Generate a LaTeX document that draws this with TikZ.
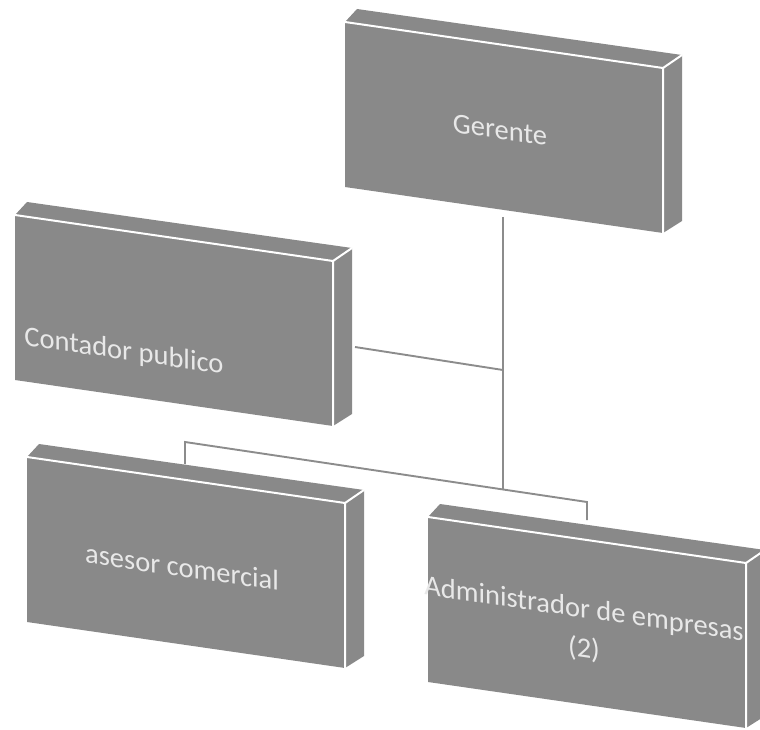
\documentclass[tikz,border=0pt]{standalone}
\usepackage{fontspec}
\setmainfont{Carlito}
\definecolor{boxgray}{RGB}{137,137,137}
\definecolor{linkgray}{RGB}{140,140,140}
\definecolor{textgray}{RGB}{232,232,232}
\begin{document}
\begin{tikzpicture}[x=1pt, y=-1pt,
    face/.style={fill=boxgray},
    rim/.style={white, line width=2pt, line cap=round},
    link/.style={draw=linkgray, line width=1.9pt},
    role/.style={text=textgray, inner sep=0pt, yslant=-0.145, font=\fontsize{28.5}{40}\selectfont}]
    \useasboundingbox (0,0) rectangle (760,730);

    % connector points
    \coordinate (ger-b) at (503,217);
    \coordinate (j1) at (503,370);
    \coordinate (j2) at (503,489);
    \coordinate (con-r) at (355,347);
    \coordinate (b1) at (185,442);
    \coordinate (b2) at (587,502);
    \coordinate (ase-t) at (185,464);
    \coordinate (adm-t) at (587,520);

    \draw [link] (ger-b) -- (j2);
    \draw [link] (con-r) -- (j1);
    \draw [link] (ase-t) -- (b1) -- (b2) -- (adm-t);

    % boxes: front, top and side faces
    \foreach \x/\y in {345/22, 15/215, 27/457, 428/517} {
        \begin{scope}[shift={(\x,\y)}]
            \fill [face] (0,0) -- (318,46) -- (318,211) -- (0,165) -- cycle;
            \fill [face] (0,0) -- (12,-13) -- (337,33) -- (318,46) -- cycle;
            \fill [face] (318,46) -- (337,33) -- (337,199) -- (318,211) -- cycle;
            \draw [rim] (0,0) -- (318,46) -- (318,211);
            \draw [rim] (318,46) -- (337,33);
        \end{scope}
    }

    \node [role] (ger) at (500,130) {Gerente};
    \node [role] (con) at (124,352) {Contador publico};
    \node [role] (ase) at (182,567) {asesor comercial};
    \node [role, align=center] (adm) at (584,630) {Administrador de empresas\\(2)};
\end{tikzpicture}
\end{document}
